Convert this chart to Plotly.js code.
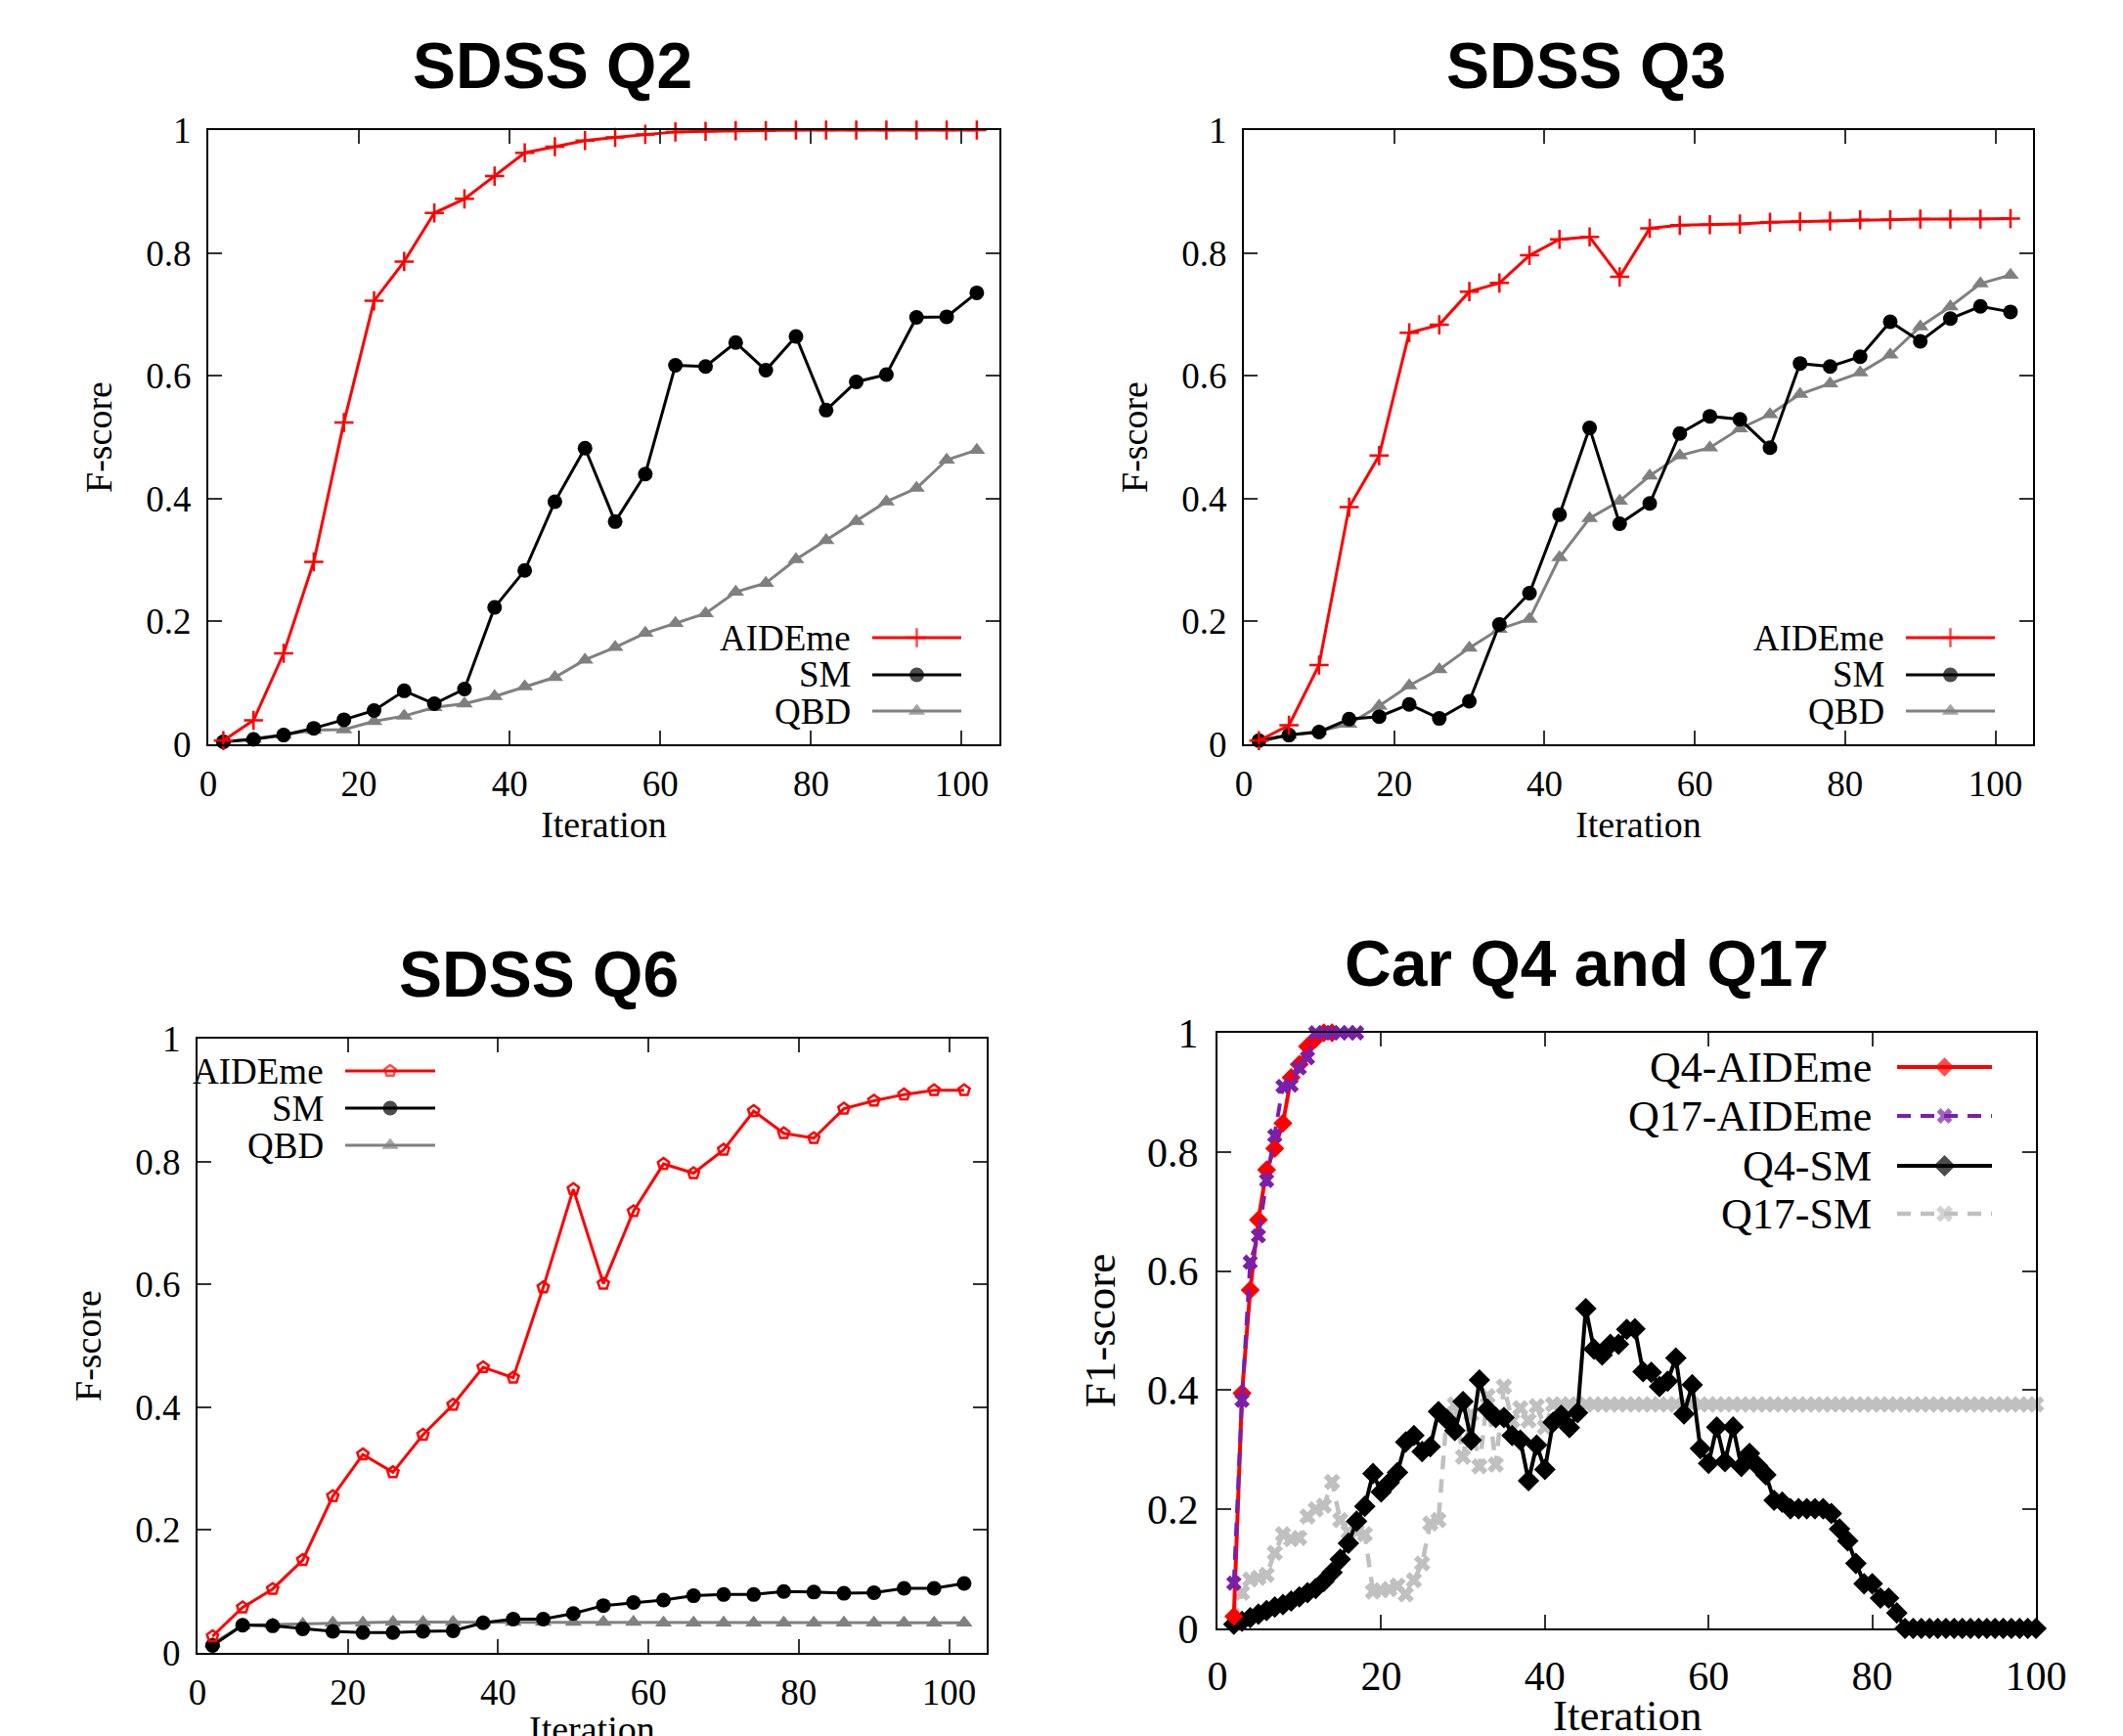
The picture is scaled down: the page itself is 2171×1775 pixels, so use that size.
<!DOCTYPE html>
<html>
<head>
<meta charset="utf-8">
<script src="https://cdn.plot.ly/plotly-3.0.1.min.js"></script>
<style>html,body{margin:0;padding:0;background:#fff;}#chart{width:2171px;height:1775px;}</style>
</head>
<body>
<div id="chart"></div>
<script>
// ---------------- DATA ----------------
const SDSS_ITER = [2, 6, 10, 14, 18, 22, 26, 30, 34, 38, 42, 46, 50, 54, 58, 62, 66, 70, 74, 78, 82, 86, 90, 94, 98, 102];

const Q2_AIDEME = [0.006, 0.039, 0.148, 0.297, 0.524, 0.722, 0.786, 0.865, 0.888, 0.925, 0.963, 0.973, 0.983, 0.988, 0.993, 0.997, 0.998, 0.999, 0.999, 1, 1, 1, 1, 1, 1, 1];
const Q2_SM     = [0.004, 0.008, 0.015, 0.026, 0.040, 0.055, 0.087, 0.066, 0.090, 0.223, 0.283, 0.395, 0.482, 0.3625, 0.440, 0.617, 0.615, 0.654, 0.609, 0.664, 0.544, 0.590, 0.602, 0.695, 0.696, 0.735];
const Q2_QBD    = [0.004, 0.009, 0.015, 0.023, 0.024, 0.0375, 0.046, 0.060, 0.066, 0.078, 0.094, 0.109, 0.1375, 0.158, 0.181, 0.197, 0.213, 0.248, 0.2625, 0.301, 0.332, 0.363, 0.395, 0.417, 0.463, 0.479];

const Q3_AIDEME = [0.006, 0.031, 0.129, 0.386, 0.47, 0.670, 0.683, 0.737, 0.751, 0.796, 0.822, 0.826, 0.761, 0.840, 0.845, 0.846, 0.847, 0.850, 0.851, 0.852, 0.854, 0.854, 0.855, 0.855, 0.855, 0.856];
const Q3_SM     = [0.006, 0.015, 0.020, 0.041, 0.045, 0.065, 0.042, 0.070, 0.195, 0.246, 0.374, 0.515, 0.359, 0.392, 0.506, 0.534, 0.529, 0.483, 0.620, 0.615, 0.631, 0.688, 0.656, 0.693, 0.713, 0.704];
const Q3_QBD    = [0.004, 0.015, 0.021, 0.033, 0.0625, 0.0955, 0.122, 0.157, 0.1875, 0.204, 0.304, 0.368, 0.396, 0.437, 0.47, 0.483, 0.514, 0.537, 0.570, 0.587, 0.605, 0.634, 0.680, 0.7125, 0.75, 0.764];

const Q6_AIDEME = [0.027, 0.074, 0.104, 0.151, 0.255, 0.323, 0.294, 0.355, 0.404, 0.465, 0.448, 0.595, 0.755, 0.601, 0.719, 0.796, 0.781, 0.819, 0.882, 0.846, 0.838, 0.886, 0.899, 0.909, 0.916, 0.916];
const Q6_SM     = [0.012, 0.045, 0.044, 0.039, 0.035, 0.033, 0.033, 0.035, 0.036, 0.049, 0.055, 0.055, 0.064, 0.077, 0.082, 0.086, 0.093, 0.095, 0.095, 0.100, 0.099, 0.097, 0.098, 0.105, 0.105, 0.113];
const Q6_QBD    = [0.015, 0.045, 0.046, 0.047, 0.049, 0.049, 0.05, 0.05, 0.05, 0.05, 0.05, 0.05, 0.05, 0.05, 0.05, 0.049, 0.049, 0.049, 0.049, 0.049, 0.049, 0.049, 0.049, 0.049, 0.049, 0.049];

const CAR_Q4_AIDEME_ITER = [2, 3, 4, 5, 6, 7, 8, 9, 10, 11, 12, 13, 14];
const CAR_Q4_AIDEME = [0.02, 0.395, 0.568, 0.686, 0.77, 0.806, 0.848, 0.925, 0.947, 0.977, 0.99, 1.0, 1.0];

const CAR_Q17_AIDEME_ITER = [2, 3, 4, 5, 6, 7, 8, 9, 10, 11, 12, 13, 14, 15, 16, 17];
const CAR_Q17_AIDEME = [0.076, 0.383, 0.615, 0.659, 0.752, 0.827, 0.91, 0.912, 0.941, 0.958, 1, 1, 1, 1, 1, 1];

const CAR_SM_ITER = [2, 3, 4, 5, 6, 7, 8, 9, 10, 11, 12, 13, 14, 15, 16, 17, 18, 19, 20, 21,
  22, 23, 24, 25, 26, 27, 28, 29, 30, 31, 32, 33, 34, 35, 36, 37, 38, 39, 40, 41,
  42, 43, 44, 45, 46, 47, 48, 49, 50, 51, 52, 53, 54, 55, 56, 57, 58, 59, 60, 61,
  62, 63, 64, 65, 66, 67, 68, 69, 70, 71, 72, 73, 74, 75, 76, 77, 78, 79, 80, 81,
  82, 83, 84, 85, 86, 87, 88, 89, 90, 91, 92, 93, 94, 95, 96, 97, 98, 99, 100];

const CAR_Q4_SM = [0.007, 0.012, 0.018, 0.024, 0.030, 0.036, 0.040, 0.046, 0.053, 0.060, 0.067, 0.079, 0.094, 0.116, 0.143, 0.180, 0.205, 0.260, 0.229, 0.245,
  0.262, 0.313, 0.324, 0.297, 0.305, 0.364, 0.351, 0.332, 0.381, 0.316, 0.417, 0.368, 0.354, 0.354, 0.324, 0.316, 0.248, 0.308, 0.267, 0.346,
  0.358, 0.337, 0.362, 0.537, 0.469, 0.459, 0.477, 0.477, 0.502, 0.503, 0.431, 0.430, 0.406, 0.415, 0.454, 0.360, 0.409, 0.302, 0.277, 0.338,
  0.280, 0.338, 0.272, 0.294, 0.273, 0.258, 0.215, 0.212, 0.201, 0.201, 0.201, 0.201, 0.201, 0.193, 0.167, 0.147, 0.109, 0.075, 0.075, 0.051,
  0.051, 0.026, 0, 0, 0, 0, 0, 0, 0, 0, 0, 0, 0, 0, 0, 0, 0, 0, 0];

const CAR_Q17_SM = [0.012, 0.060, 0.082, 0.085, 0.090, 0.127, 0.158, 0.150, 0.152, 0.188, 0.200, 0.206, 0.246, 0.182, 0.162, 0.163, 0.158, 0.062, 0.064, 0.066,
  0.072, 0.057, 0.081, 0.109, 0.176, 0.182, 0.354, 0.376, 0.288, 0.360, 0.272, 0.390, 0.275, 0.406, 0.349, 0.370, 0.349, 0.373, 0.338, 0.376,
  0.376, 0.376, 0.376, 0.376, 0.376, 0.376, 0.376, 0.376, 0.376, 0.376, 0.376, 0.376, 0.376, 0.376, 0.376, 0.376, 0.376, 0.376, 0.376, 0.376,
  0.376, 0.376, 0.376, 0.376, 0.376, 0.376, 0.376, 0.376, 0.376, 0.376, 0.376, 0.376, 0.376, 0.376, 0.376, 0.376, 0.376, 0.376, 0.376, 0.376,
  0.376, 0.376, 0.376, 0.376, 0.376, 0.376, 0.376, 0.376, 0.376, 0.376, 0.376, 0.376, 0.376, 0.376, 0.376, 0.376, 0.376, 0.376, 0.376];

const SERIES_SDSS = ['AIDEme', 'SM', 'QBD'];
const SERIES_CAR = ['Q4-AIDEme', 'Q17-AIDEme', 'Q4-SM', 'Q17-SM'];
const TITLES = ['SDSS Q2', 'SDSS Q3', 'SDSS Q6', 'Car Q4 and Q17'];
const X_TITLE = 'Iteration';
const Y_TITLES = ['F-score', 'F-score', 'F-score', 'F1-score'];

// ---------------- LAYOUT (pixels) ----------------
const W = 2171, H = 1775;
const px = v => v / W;
const py = v => 1 - v / H;

// xtAnn: if set, x-axis title drawn as annotation at that pixel y (the reference crops the Q6 one at the bottom edge)
const PANELS = [
  {x0: 213, x1: 1022, y0: 133, y1: 761, xr: [0, 105], title: [565, 67], tick: 37, lab: 38, xls: 7, xts: 1, yls: 8, yts: 23},
  {x0: 1272, x1: 2079, y0: 133, y1: 761, xr: [0, 105], title: [1622, 67], tick: 37, lab: 38, xls: 7, xts: 1, yls: 8, yts: 23},
  {x0: 202, x1: 1009, y0: 1062, y1: 1690, xr: [0, 105], title: [551, 996], tick: 37, lab: 38, xls: 7, xts: 2, yls: 8, yts: 23, xtAnn: 1768},
  {x0: 1245, x1: 2082, y0: 1056, y1: 1665, xr: [0, 100], title: [1622, 985], tick: 42, lab: 45, xls: 11, xts: 9, yls: 9, yts: 18, xtAnn: 1754}
];

const RED = '#ff0000', BLACK = '#000000', GRAY = '#808080', LIGHT = '#c0c0c0', PURPLE = '#7b1fa9';
const SERIF = 'Liberation Serif';

const data = [];
function add(axIdx, xs, ys, color, symbol, size, opts) {
  opts = opts || {};
  const s = axIdx === 0 ? '' : String(axIdx + 1);
  data.push({
    type: 'scatter', mode: 'lines+markers', x: xs, y: ys,
    xaxis: 'x' + s, yaxis: 'y' + s, cliponaxis: false, showlegend: false, hoverinfo: 'skip',
    line: {color: color, width: opts.lw || 3, dash: opts.dash || 'solid'},
    marker: {symbol: symbol, size: size, color: color, line: {color: color, width: opts.mlw || 0}}
  });
}

// SDSS panels
const sdss = [[Q2_AIDEME, Q2_SM, Q2_QBD], [Q3_AIDEME, Q3_SM, Q3_QBD], [Q6_AIDEME, Q6_SM, Q6_QBD]];
sdss.forEach((s, i) => {
  add(i, SDSS_ITER, s[2], GRAY, 'triangle-up', 15);
  add(i, SDSS_ITER, s[1], BLACK, 'circle', 15);
  if (i < 2) add(i, SDSS_ITER, s[0], RED, 'cross-thin-open', 14, {mlw: 2.5});
  else add(i, SDSS_ITER, s[0], RED, 'pentagon-open', 12, {mlw: 2.5});
});
// Car panel
add(3, CAR_SM_ITER, CAR_Q17_SM, LIGHT, 'x', 15, {lw: 4.5, dash: '14px,10px'});
add(3, CAR_SM_ITER, CAR_Q4_SM, BLACK, 'diamond', 17, {lw: 4});
add(3, CAR_Q4_AIDEME_ITER, CAR_Q4_AIDEME, RED, 'diamond', 15, {lw: 4});
add(3, CAR_Q17_AIDEME_ITER, CAR_Q17_AIDEME, PURPLE, 'x', 14, {lw: 4, dash: '14px,10px'});

// Legend definitions (layout positions in pixels)
const LEGENDS = [
  {tx: 872, l0: 892, l1: 983, rows: [652, 690, 727], size: 37, names: SERIES_SDSS,
   sty: [[RED, 'cross-thin-open', 14, 3, 'solid', 2.5], [BLACK, 'circle', 15, 3, 'solid', 0], [GRAY, 'triangle-up', 15, 3, 'solid', 0]]},
  {tx: 1929, l0: 1949, l1: 2040, rows: [652, 690, 727], size: 37, names: SERIES_SDSS,
   sty: [[RED, 'cross-thin-open', 14, 3, 'solid', 2.5], [BLACK, 'circle', 15, 3, 'solid', 0], [GRAY, 'triangle-up', 15, 3, 'solid', 0]]},
  {tx: 333, l0: 353, l1: 445, rows: [1095, 1133, 1171], size: 37, names: SERIES_SDSS,
   sty: [[RED, 'pentagon-open', 12, 3, 'solid', 2.5], [BLACK, 'circle', 15, 3, 'solid', 0], [GRAY, 'triangle-up', 15, 3, 'solid', 0]]},
  {tx: 1916, l0: 1940, l1: 2037, rows: [1091, 1141, 1192, 1241], size: 44, names: SERIES_CAR,
   sty: [[RED, 'diamond', 15, 4, 'solid', 0], [PURPLE, 'x', 14, 4, '14px,10px', 0], [BLACK, 'diamond', 17, 4, 'solid', 0], [LIGHT, 'x', 15, 4.5, '14px,10px', 0]]}
];

const annotations = [];
LEGENDS.forEach(L => {
  L.names.forEach((nm, k) => {
    const st = L.sty[k];
    const y = L.rows[k];
    data.push({
      type: 'scatter', mode: 'lines+markers', x: [L.l0, (L.l0 + L.l1) / 2, L.l1], y: [y, y, y],
      xaxis: 'x5', yaxis: 'y5', cliponaxis: false, showlegend: false, hoverinfo: 'skip',
      line: {color: st[0], width: st[3], dash: st[4]},
      marker: {symbol: st[1], size: [0, st[2], 0], color: st[0], line: {color: st[0], width: st[5]}}
    });
    annotations.push({
      xref: 'paper', yref: 'paper', x: px(L.tx), y: py(y), xanchor: 'right', yanchor: 'middle',
      text: nm, showarrow: false, font: {family: SERIF, size: L.size, color: '#000'}
    });
  });
});

TITLES.forEach((t, i) => {
  const P = PANELS[i];
  annotations.push({
    xref: 'paper', yref: 'paper', x: px(P.title[0]), y: py(P.title[1]), xanchor: 'center', yanchor: 'middle',
    text: t, showarrow: false, font: {family: 'Liberation Sans', size: 66, weight: 'bold', color: '#000'}
  });
});

const layout = {
  width: W, height: H, margin: {l: 0, r: 0, t: 0, b: 0},
  paper_bgcolor: '#ffffff', plot_bgcolor: 'rgba(0,0,0,0)',
  showlegend: false, annotations: annotations,
  xaxis5: {domain: [0, 1], range: [0, W], visible: false, fixedrange: true, anchor: 'y5'},
  yaxis5: {domain: [0, 1], range: [H, 0], visible: false, fixedrange: true, anchor: 'x5'}
};

PANELS.forEach((P, i) => {
  const s = i === 0 ? '' : String(i + 1);
  const common = {
    showline: true, linecolor: '#000', linewidth: 2, mirror: 'ticks',
    ticks: 'inside', ticklen: 14, tickwidth: 2, tickcolor: '#333',
    showgrid: false, zeroline: false, fixedrange: true,
    tickfont: {family: SERIF, size: P.tick, color: '#000'}
  };
  const xa = Object.assign({}, common, {
    domain: [px(P.x0), px(P.x1)], range: P.xr, anchor: 'y' + s,
    tickmode: 'linear', tick0: 0, dtick: 20, ticklabelstandoff: P.xls
  });
  if (P.xtAnn) {
    annotations.push({
      xref: 'paper', yref: 'paper', x: px((P.x0 + P.x1) / 2), y: py(P.xtAnn), xanchor: 'center', yanchor: 'middle',
      text: X_TITLE, showarrow: false, font: {family: SERIF, size: P.lab, color: '#000'}
    });
  } else {
    xa.title = {text: X_TITLE, font: {family: SERIF, size: P.lab, color: '#000'}, standoff: P.xts};
  }
  layout['xaxis' + s] = xa;
  layout['yaxis' + s] = Object.assign({}, common, {
    domain: [py(P.y1), py(P.y0)], range: [0, 1], anchor: 'x' + s,
    tickmode: 'linear', tick0: 0, dtick: 0.2, ticklabelstandoff: P.yls,
    title: {text: Y_TITLES[i], font: {family: SERIF, size: P.lab, color: '#000'}, standoff: P.yts}
  });
});

Plotly.newPlot('chart', data, layout, {staticPlot: true, displayModeBar: false});
</script>
</body>
</html>
